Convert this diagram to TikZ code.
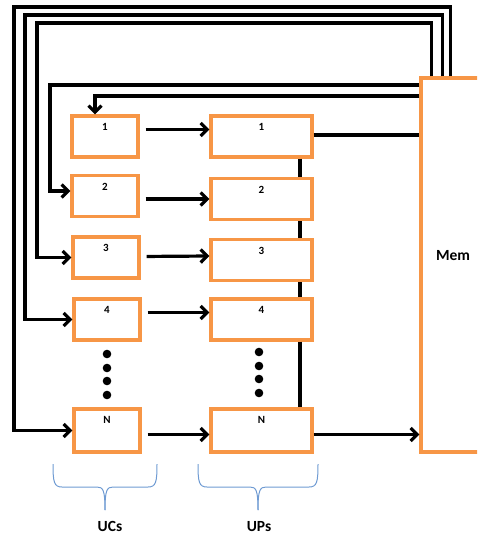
\documentclass[tikz,border=0pt]{standalone}
\usepackage{fontspec}
\setmainfont{Carlito}
\usetikzlibrary{arrows.meta}
\definecolor{boxorange}{HTML}{F79646}
\definecolor{bracecol}{HTML}{6F9BD3}
\begin{document}
\begin{tikzpicture}[x=1pt,y=-1pt,
  ucbox/.style={draw=boxorange, line width=3.2pt, minimum width=66pt, minimum height=41pt, inner sep=0pt},
  upbox/.style={draw=boxorange, line width=3.2pt, minimum width=101pt, minimum height=41pt, inner sep=0pt},
  tag/.style={label={[font=\bfseries\fontsize{11}{11}\selectfont, anchor=center, yshift=-13pt]north:#1}},
  wire/.style={line width=3.2pt},
  arr/.style={line width=3.2pt, -{Straight Barb[length=6.5pt,width=13pt]}},
  brace/.style={draw=bracecol, line width=1pt},
  dot/.style={fill=black}]
\clip (0,0) rectangle (477,535);
% boxes
\node[ucbox, tag=1] (uc1) at (105,136.5) {};
\node[ucbox, tag=2] (uc2) at (105,196) {};
\node[ucbox, tag=3] (uc3) at (106,257.5) {};
\node[ucbox, tag=4] (uc4) at (107,319.5) {};
\node[ucbox, tag=N, minimum height=43pt] (ucN) at (107,430.5) {};
\node[upbox, tag=1] (up1) at (261.5,136.5) {};
\node[upbox, tag=2] (up2) at (261.5,199) {};
\node[upbox, tag=3] (up3) at (261.5,260) {};
\node[upbox, tag=4] (up4) at (261.5,319.5) {};
\node[upbox, tag=N, minimum height=43pt] (upN) at (261.5,430.5) {};
\node[draw=boxorange, line width=3.2pt, minimum width=64pt, minimum height=374pt, inner sep=0pt,
  label={[font=\bfseries\fontsize{15.5}{15.5}\selectfont, anchor=center, yshift=9pt]center:Mem}] (Mem) at (453,265) {};
% bend points
\coordinate (c1) at (14,7);
\coordinate (c2) at (25,15);
\coordinate (c3) at (37,23);
\coordinate (b4) at (50,85);
\coordinate (b5) at (95,96);
\coordinate (vx) at (300,0);
% feedback wires
\draw[arr] ([xshift=31pt]Mem.north west) |- (c1) |- (ucN.west);
\draw[arr] ([xshift=23pt]Mem.north west) |- (c2) |- (uc4.west);
\draw[arr] ([xshift=12pt]Mem.north west) |- (c3) |- (uc3.west);
\draw[arr] (Mem.west |- b4) -- (b4) |- ([yshift=5pt]uc2.west);
\draw[arr] (Mem.west |- b5) -| ([xshift=-10pt]uc1.north);
% UC -> UP
\draw[arr, shorten <=6pt] ([yshift=7pt]uc1.east) -- ([yshift=7pt]up1.west);
\draw[arr, shorten <=6pt] ([yshift=-3pt]uc2.east) -- ([yshift=0pt]up2.west);
\draw[arr, shorten <=6pt] ([yshift=1pt]uc3.east) -- ([yshift=4pt]up3.west);
\draw[arr, shorten <=6pt] ([yshift=7pt]uc4.east) -- ([yshift=7pt]up4.west);
\draw[arr, shorten <=6pt] ([yshift=-4pt]ucN.east) -- ([yshift=-4pt]upN.west);
% UP chain
\draw[wire] (up1.south -| vx) -- (up2.north -| vx);
\draw[wire] (up2.south -| vx) -- (up3.north -| vx);
\draw[wire] (up3.south -| vx) -- (up4.north -| vx);
\draw[wire] (up4.south -| vx) -- (upN.north -| vx);
% UP -> Mem
\draw[wire] ([yshift=1.5pt]up1.east) -- ([yshift=1.5pt]up1.east -| Mem.west);
\draw[arr] ([yshift=-4pt]upN.east) -- ([yshift=-4pt]upN.east -| Mem.west);
% dots
\foreach \y in {354,368,381,395} \fill[dot] (107,\y) circle (4.3pt);
\foreach \y in {352,366,379,393} \fill[dot] (259,\y) circle (4.3pt);
% braces
\draw[brace] (53,464) .. controls (53,482) and (54,487) .. (62,487) -- (97,487) .. controls (103,487) and (105,490) .. (105,510);
\draw[brace] (157,464) .. controls (157,482) and (156,487) .. (148,487) -- (113,487) .. controls (107,487) and (105,490) .. (105,510);
\draw[brace] (198,464) .. controls (198,482) and (199,487) .. (207,487) -- (250,487) .. controls (256,487) and (258,490) .. (258,510);
\draw[brace] (318,464) .. controls (318,482) and (317,487) .. (309,487) -- (266,487) .. controls (260,487) and (258,490) .. (258,510);
% labels
\node[font=\bfseries\fontsize{15.5}{15.5}\selectfont] (ucs) at (110,526.5) {UCs};
\node[font=\bfseries\fontsize{15.5}{15.5}\selectfont] (ups) at (259,526.5) {UPs};
\end{tikzpicture}
\end{document}
